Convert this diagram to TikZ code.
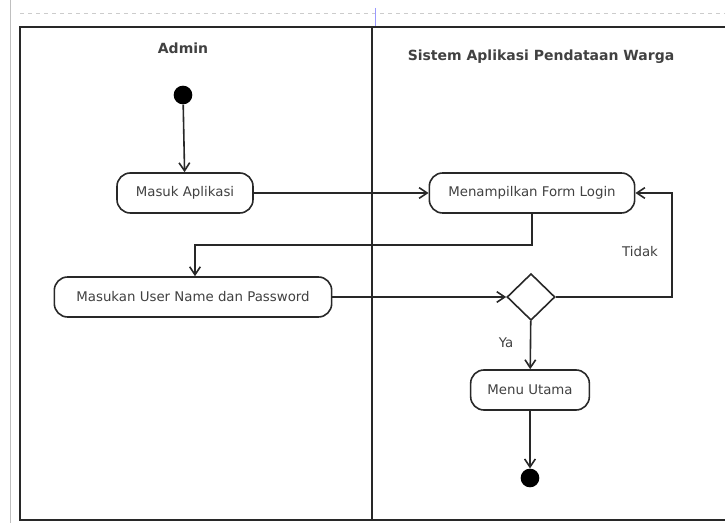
\documentclass[tikz,border=0pt]{standalone}
\usepackage{fontspec}
\setmainfont{DejaVu Sans}
\usepackage{tikz}
\usetikzlibrary{arrows.meta, positioning, shapes.geometric}
\definecolor{lineGray}{RGB}{40,40,40}
\definecolor{textGray}{RGB}{65,65,65}

\begin{document}
\begin{tikzpicture}[
    x=0.75pt, y=-0.75pt,
    font=\fontsize{10}{12}\selectfont,
    act/.style={rounded corners=10pt, draw=lineGray, line width=1.2pt, fill=white, text=textGray, minimum height=30pt, inner sep=2pt},
    dot/.style={circle, fill=black, inner sep=0pt, minimum size=14pt},
    choice/.style={diamond, draw=lineGray, line width=1.2pt, fill=white, inner sep=0pt, minimum width=36pt, minimum height=35pt},
    lane/.style={line width=1.7pt, draw=lineGray},
    arrow/.style={-{Straight Barb[length=6pt, width=8pt]}, line width=1.2pt, draw=lineGray},
    lbl/.style={text=textGray},
    title/.style={font=\fontsize{10.5}{12}\selectfont\bfseries, text=textGray}
  ]
    \useasboundingbox (0,0) rectangle (725,523);

    % faint editor grid
    \draw[black!20, dashed] (20,13) -- (725,13);
    \draw[black!25] (10,0) -- (10,523);
    \draw[blue!40] (375,8) -- (375,27);

    % swimlanes
    \draw[lane] (725,27) -- (20,27) -- (20,520) -- (725,520);
    \draw[lane] (372,27) -- (372,520);
    \node[title] (admin) at (183,48) {Admin};
    \node[title] (sistem) at (541,57) {Sistem Aplikasi Pendataan Warga};

    \node[dot] (start) at (183,95) {};
    \node[act, minimum width=102pt] (masuk) at (185,193) {Masuk Aplikasi};
    \node[act, minimum width=154pt] (form) at (532,193) {Menampilkan Form Login};
    \node[act, minimum width=208pt] (user) at (193,297) {Masukan User Name dan Password};
    \node[choice] (cek) at (531,297) {};
    \node[act, minimum width=89pt] (menu) at (530,390) {Menu Utama};
    \node[dot] (stop) at (530,478) {};

    \draw[arrow] (start) -- (masuk);
    \draw[arrow] (masuk) -- (form);
    \draw[arrow] (form.south) |- (195,245) -- (user.north -| 195,0);
    \draw[arrow] (user) -- (cek);
    \draw[arrow] (cek.east) -- (672,297) |- (form.east);
    \draw[arrow] (cek) -- (menu);
    \draw[arrow] (menu) -- (stop);

    \node[lbl] (tidak) at (640,252) {Tidak};
    \node[lbl] (ya) at (506,343) {Ya};
  \end{tikzpicture}
\end{document}
